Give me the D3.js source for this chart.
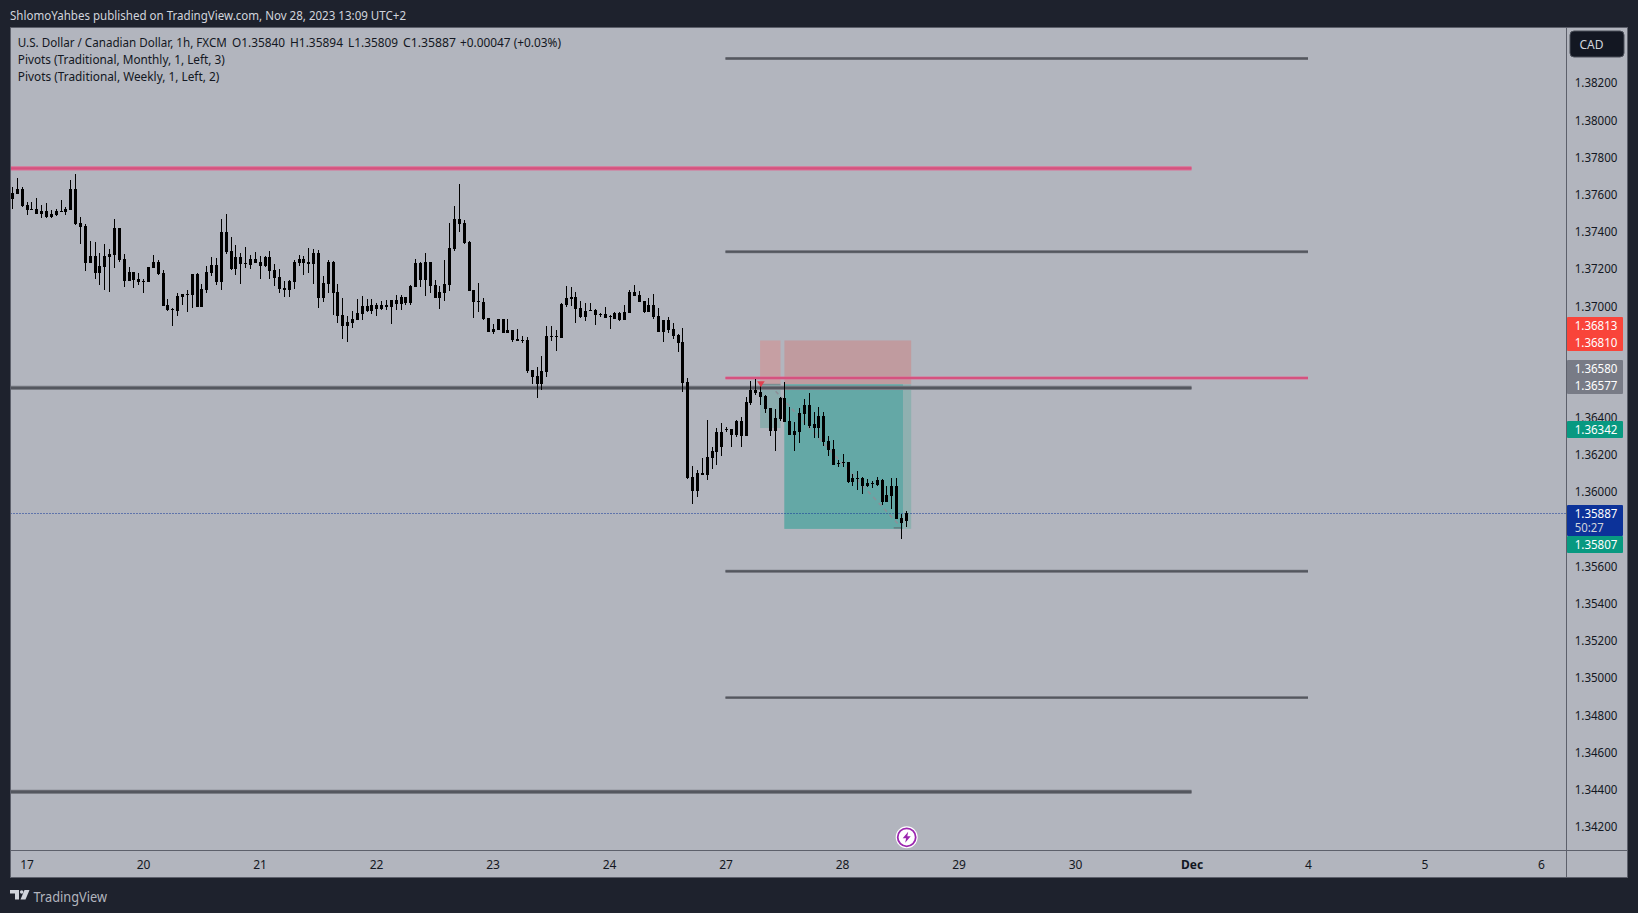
<!DOCTYPE html>
<html><head><meta charset="utf-8">
<script src="https://cdn.jsdelivr.net/npm/d3@7"></script>
<style>html,body{margin:0;padding:0;background:#1e222d;overflow:hidden}svg{display:block}text{font-family:"Noto Sans",sans-serif}</style>
</head><body><svg id="c" width="1638" height="913"></svg>
<script>
// Hourly candles, price x 1e5, first bar is index -3 (3 hours before day "17")
const firstBarIndex = -3;
const highs = [137640,137686,137638,137555,137557,137579,137541,137552,137514,137520,137568,137529,137675,137708,137477,137439,137348,137342,137283,137331,137305,137464,137417,137278,137208,137181,137176,137143,137208,137272,137245,137192,137036,136987,137068,137063,137084,137170,137176,137116,137213,137262,137256,137464,137493,137369,137326,137283,137315,137272,137288,137267,137267,137294,137224,137197,137133,137138,137245,137272,137267,137310,137305,137299,137159,137245,137240,137116,137041,136944,136971,137036,
137053,137036,137036,137015,137026,137031,137031,137058,137058,137047,137112,137252,137235,137284,137235,137139,137106,137246,137445,137536,137655,137461,137348,137085,137123,137042,136934,136902,136929,136929,136929,136870,136875,136838,136832,136655,136671,136730,136891,136891,136870,137015,137106,137101,137074,137026,137015,137015,136983,136961,136993,136950,136967,136967,137004,137085,137112,137080,137026,137042,137063,136988,136924,136940,136907,136848,136881,
136609,136138,136117,136181,136385,136240,136342,136369,136350,136337,136385,136402,136509,136595,136604,136583,136520,136450,136445,136509,136590,136455,136375,136450,136498,136531,136428,136455,136428,136299,136278,136170,136203,136160,136095,136111,136079,136068,136057,136079,136068,136031,136074,136074,135880,135894];
const bodyTops = [137606,137627,137627,137541,137518,137520,137509,137509,137493,137509,137509,137520,137627,137627,137444,137428,137267,137267,137213,137267,137278,137417,137417,137251,137181,137181,137143,137133,137208,137235,137235,137176,137003,136982,137052,137063,137063,137170,137170,137089,137181,137219,137219,137396,137396,137294,137262,137262,137229,137251,137251,137235,137262,137262,137192,137154,137095,137133,137235,137251,137251,137235,137283,137283,137122,137235,137235,137073,136950,136912,136928,136960,
136999,136999,137004,137004,137004,137004,137031,137031,137047,137047,137106,137230,137230,137235,137235,137112,137074,137117,137311,137467,137467,137445,137343,137085,137026,137020,136934,136875,136929,136929,136870,136870,136821,136816,136816,136655,136623,136649,136838,136838,136838,137010,137042,137047,137047,136988,136972,136977,136977,136954,136956,136942,136961,136961,136967,137074,137074,137058,137026,137004,137004,136945,136924,136924,136875,136843,136805,
136588,136079,136100,136100,136186,136219,136321,136321,136337,136337,136380,136380,136482,136547,136547,136536,136514,136450,136396,136504,136504,136380,136326,136423,136466,136466,136364,136407,136407,136273,136229,136154,136160,136160,136074,136074,136074,136047,136047,136063,136063,135982,136031,136031,135859,135887];
const bodyBottoms = [137573,137600,137538,137514,137514,137493,137493,137477,137477,137487,137505,137503,137514,137439,137423,137231,137229,137176,137176,137208,137262,137272,137245,137133,137133,137138,137127,137129,137127,137202,137170,136998,136977,136978,136971,137046,137059,137057,136993,136993,137084,137176,137127,137127,137288,137197,137197,137224,137224,137219,137229,137213,137213,137186,137149,137089,137084,137084,137127,137229,137229,137224,137224,137041,137041,137116,137068,136944,136891,136891,136907,136923,
136956,136972,136972,136983,136983,136993,136993,137010,137010,137015,137015,137101,137139,137139,137106,137042,137042,137069,137112,137305,137440,137338,137080,137020,137022,136929,136859,136859,136870,136854,136854,136816,136811,136812,136649,136617,136580,136580,136644,136834,136834,136827,137004,137036,136983,136940,136940,136972,136950,136949,136934,136938,136929,136924,136924,136961,137053,137020,136967,136967,136940,136859,136859,136870,136838,136800,136585,
136074,136004,136004,136090,136090,136181,136213,136240,136332,136305,136305,136299,136299,136477,136531,136509,136445,136326,136326,136391,136375,136305,136305,136321,136418,136353,136342,136342,136267,136224,136143,136149,136154,136052,136052,136068,136031,136031,136041,136036,135945,135945,135977,135853,135832,135840];
const lows = [137520,137600,137530,137487,137514,137493,137471,137471,137471,137482,137503,137487,137514,137434,137331,137186,137229,137143,137111,137084,137073,137202,137235,137100,137133,137095,137111,137068,137127,137202,137165,136998,136971,136891,136944,137003,136966,136987,136993,136993,137068,137159,137111,137084,137278,137192,137165,137116,137202,137197,137229,137143,137208,137143,137106,137068,137046,137046,137089,137213,137165,137176,137116,136987,137020,137068,136950,136907,136821,136805,136880,136921,
136924,136967,136956,136945,136977,136977,136902,136977,136977,137004,137004,137101,137101,137053,137069,137042,136983,137026,137080,137295,137397,137332,137080,136934,136967,136924,136859,136848,136870,136854,136854,136805,136811,136800,136639,136580,136504,136547,136617,136811,136757,136827,136993,136999,136907,136934,136918,136972,136897,136940,136934,136875,136929,136918,136924,136961,137053,137020,136961,136967,136929,136859,136805,136854,136821,136752,136537,
136068,135934,135971,136090,136063,136122,136143,136192,136319,136240,136294,136240,136299,136466,136520,136466,136423,136299,136219,136380,136375,136305,136219,136262,136359,136342,136289,136289,136246,136192,136143,136133,136133,136047,136031,136009,135988,136025,136020,136031,135928,135945,135907,135853,135746,135809];

const priceTicks = [1.342,1.344,1.346,1.348,1.350,1.352,1.354,1.356,1.360,1.362,1.364,1.370,1.372,1.374,1.376,1.378,1.380,1.382];
const timeLabels = ["17","20","21","22","23","24","27","28","29","30","Dec","4","5","6"];
const timeTickBars = [0,24,48,72,96,120,144,168,192,216,240,264,288,312];

// Pivot levels
const monthlyPivots = [{p:1.37738,c:"pink"},{p:1.36558,c:"grey"},{p:1.34386,c:"grey"}];
const weeklyPivots  = [{p:1.38329,c:"grey"},{p:1.37290,c:"grey"},{p:1.36611,c:"pink"},{p:1.35572,c:"grey"},{p:1.34892,c:"grey"}];
const monthlyBars = [-4, 240];
const weeklyBars  = [144, 264];

// Short-position tool
const stopPrice = 1.36813, entryPrice = 1.36577, target1 = 1.36342, target2 = 1.35800, lastPrice = 1.35887;
const firstTrade = {bars:[151,155.2]};
const secondTrade = {bars:[156,182.1], inner:180.4};
const tradePath = {bars:[154.2,179.8], prices:[1.36540,1.35815]};
const exitMark = {bars:[178.5,180], price:1.35805};
const signalBar = 151;

const axisBadges = [
 {top:317,h:34,fill:"#f9443a",lines:[["1.36813",325.7],["1.36810",342.3]]},
 {top:360,h:34,fill:"#787b86",lines:[["1.36580",369],["1.36577",385.7]]},
 {top:421,h:17,fill:"#089981",lines:[["1.36342",429.5]]},
 {top:505,h:31,fill:"#0c3299",lines:[["1.35887",513.3],["50:27",527.3]]},
 {top:536,h:17,fill:"#089981",lines:[["1.35807",544.7]]}
];

if (new Set([highs.length,bodyTops.length,bodyBottoms.length,lows.length]).size!==1) throw new Error("len "+[highs.length,bodyTops.length,bodyBottoms.length,lows.length]);

const svg = d3.select("#c");
const PL=10.5, PR=1566.5, PT=27.5, PB=850.5, RB=1627.5, BB=877.5;
const x = d3.scaleLinear().domain([0,24]).range([26.5,143.1]);
const xLabels = d3.scaleLinear().domain([0,24]).range([26.5,143]);
const y = d3.scaleLinear().domain([1.342,1.382]).range([826.4,82.5]);
const yy = v => y(v/1e5);

function fitText(sel,w){return sel.attr("textLength",w).attr("lengthAdjust","spacingAndGlyphs");}

svg.append("rect").attr("width",1638).attr("height",913).attr("fill","#1e222d");
svg.append("rect").attr("x",PL).attr("y",PT).attr("width",RB-PL).attr("height",BB-PT).attr("fill","#b2b5be").attr("stroke","#5d606b").attr("stroke-width",1);
svg.append("line").attr("x1",PR).attr("x2",PR).attr("y1",PT).attr("y2",BB).attr("stroke","#5d606b");
svg.append("line").attr("x1",PL).attr("x2",RB).attr("y1",PB).attr("y2",PB).attr("stroke","#5d606b");

const defs = svg.append("defs");
defs.append("clipPath").attr("id","plot").append("rect").attr("x",PL+.5).attr("y",PT+.5).attr("width",PR-PL-1).attr("height",PB-PT-1);
const plot = svg.append("g").attr("clip-path","url(#plot)");

// trade boxes
function box(b0,b1,p0,p1,fill){
  plot.append("rect").attr("x",x(b0)).attr("width",x(b1)-x(b0)).attr("y",y(p0)).attr("height",y(p1)-y(p0)).attr("fill",fill);
}
box(firstTrade.bars[0],firstTrade.bars[1],stopPrice,entryPrice,"#c69fa3");
box(firstTrade.bars[0],firstTrade.bars[1],entryPrice,target1,"#8aacad");
box(secondTrade.bars[0],secondTrade.bars[1],stopPrice,entryPrice,"#c09b9f");
box(secondTrade.bars[0],secondTrade.bars[1],entryPrice,target2,"#8fb0b0");
box(secondTrade.bars[0],secondTrade.inner,entryPrice,target2,"#64a8a6");
plot.append("line").attr("x1",x(firstTrade.bars[0])).attr("x2",x(firstTrade.bars[1])).attr("y1",y(entryPrice)).attr("y2",y(entryPrice)).attr("stroke","#74898c");

// pivots: soft outer edge and darker core
const colors = {pink:"#d5527f",grey:"#54575f"}, edges = {pink:"#dc6f95",grey:"#7a7d85"};
function pivots(data,bars,wo,wi){
  [[wo,edges],[wi,colors]].forEach(([w,pal])=>{
    plot.append("g").selectAll("line").data(data).join("line").attr("x1",xLabels(bars[0])).attr("x2",xLabels(bars[1]))
      .attr("y1",d=>y(d.p)).attr("y2",d=>y(d.p)).attr("stroke",d=>pal[d.c]).attr("stroke-width",w);
  });
}
pivots(monthlyPivots,monthlyBars,4.2,2.4);
pivots(weeklyPivots,weeklyBars,2.8,1.8);

// dashed trade path
plot.append("line").attr("x1",x(tradePath.bars[0])).attr("x2",x(tradePath.bars[1]))
  .attr("y1",y(tradePath.prices[0])).attr("y2",y(tradePath.prices[1]))
  .attr("stroke","#8b9098").attr("stroke-width",1.6).attr("stroke-dasharray","4 4");
plot.append("line").attr("x1",x(exitMark.bars[0])).attr("x2",x(exitMark.bars[1])).attr("y1",y(exitMark.price)).attr("y2",y(exitMark.price)).attr("stroke","#5f6a6c");

// last price line
plot.append("line").attr("x1",PL).attr("x2",PR).attr("y1",Math.round(y(lastPrice))+.5).attr("y2",Math.round(y(lastPrice))+.5)
  .attr("stroke","#0c3299").attr("stroke-dasharray","1 2");

// candles
const bars = d3.range(highs.length);
const cx = i => Math.round(x(i+firstBarIndex));
const cg = plot.append("g").attr("shape-rendering","crispEdges").attr("fill","#000");
cg.selectAll(".w").data(bars).join("rect").attr("x",cx).attr("width",1)
  .attr("y",i=>yy(highs[i])).attr("height",i=>Math.max(1,yy(lows[i])-yy(highs[i])));
cg.selectAll(".b").data(bars).join("rect").attr("x",i=>cx(i)-1).attr("width",3)
  .attr("y",i=>yy(bodyTops[i])).attr("height",i=>Math.max(1,yy(bodyBottoms[i])-yy(bodyTops[i])));

// signal arrow
const ax = x(signalBar)+.8, ay = y(entryPrice);
plot.append("path").attr("d",d3.line()([[ax-3.8,ay-3.2],[ax+3.8,ay-3.2],[ax,ay+3]])+"Z").attr("fill","#e0404f");

// axes
const yAxis = d3.axisRight(y).tickValues(priceTicks).tickFormat(d3.format(".5f")).tickSize(0).tickPadding(0);
const yg = svg.append("g").attr("transform","translate(1574.7,0.5)").call(yAxis);
yg.select(".domain").remove();
yg.selectAll("text").attr("fill","#131722").attr("font-size",12).attr("font-family",'"Noto Sans",sans-serif').attr("textLength",42.7).attr("lengthAdjust","spacingAndGlyphs");

const tScale = d3.scaleOrdinal().domain(timeTickBars).range(timeLabels);
const xAxis = d3.axisBottom(xLabels).tickValues(timeTickBars).tickFormat(d=>tScale(d)).tickSize(0).tickPadding(10);
const xg = svg.append("g").attr("transform","translate(0,850)").call(xAxis);
xg.select(".domain").remove();
xg.selectAll("text").attr("fill","#131722").attr("font-size",12).attr("font-family",'"Noto Sans",sans-serif')
  .attr("font-weight",d=>d===240?"700":"400");

// axis badges
axisBadges.forEach(b=>{
  svg.append("rect").attr("x",PR+.5).attr("y",b.top).attr("width",1623-PR-.5).attr("height",b.h).attr("fill",b.fill).attr("rx",1);
  b.lines.forEach(([t,c],k)=>{
    const tx = svg.append("text").attr("x",1574.7).attr("y",c).attr("dy",".35em").attr("font-size",12)
      .attr("fill",t==="50:27"?"#d1d4dc":"#ffffff").text(t);
    if(t.length===7) fitText(tx,42.7); else fitText(tx,29);
  });
});

// currency button
svg.append("rect").attr("x",1570).attr("y",31).attr("width",54).attr("height",26).attr("rx",4).attr("fill","#131722").attr("stroke","#4a4e59");
svg.append("text").attr("x",1579.5).attr("y",44.7).attr("dy",".35em").attr("font-size",12).attr("fill","#d1d4dc").text("CAD");

// texts
fitText(svg.append("text").attr("x",10).attr("y",20.3).attr("font-size",12).attr("fill","#d1d4dc").text("ShlomoYahbes published on TradingView.com, Nov 28, 2023 13:09 UTC+2"),396);
const legend = [
 ["U.S. Dollar / Canadian Dollar, 1h, FXCM",17.8,47,209],
 ["O1.35840",232,47,53],["H1.35894",290,47,53],["L1.35809",348,47,50],["C1.35887",403,47,53],["+0.00047 (+0.03%)",460,47,101],
 ["Pivots (Traditional, Monthly, 1, Left, 3)",17.8,64,207],
 ["Pivots (Traditional, Weekly, 1, Left, 2)",17.8,80.7,201.5]
];
legend.forEach(([t,lx,ly,w])=>fitText(svg.append("text").attr("x",lx).attr("y",ly).attr("font-size",12).attr("fill","#131722").text(t),w));

// bolt marker
const bg = svg.append("g").attr("transform","translate(906.7,837.3)");
bg.append("circle").attr("r",11).attr("fill","#fff");
bg.append("circle").attr("r",9).attr("fill","#fff").attr("stroke","#9c27b0").attr("stroke-width",1.8);
bg.append("path").attr("d","M1.5,-5.5 L-4,1 L-0.6,1 L-1.5,5.5 L4,-1 L0.6,-1 Z").attr("fill","#9c27b0");

// logo
const lg = svg.append("g").attr("fill","#d1d4dc");
lg.append("path").attr("d","M10,890 H19 V899.5 H15 V893.5 H10 Z");
lg.append("circle").attr("cx",21.7).attr("cy",892).attr("r",1.8);
lg.append("path").attr("d","M24.5,890 H29.5 L25.5,899.5 H20.5 Z");
fitText(svg.append("text").attr("x",33.5).attr("y",901.5).attr("font-size",13.5).attr("fill","#b2b5be").text("TradingView"),73.5);
</script></body></html>
